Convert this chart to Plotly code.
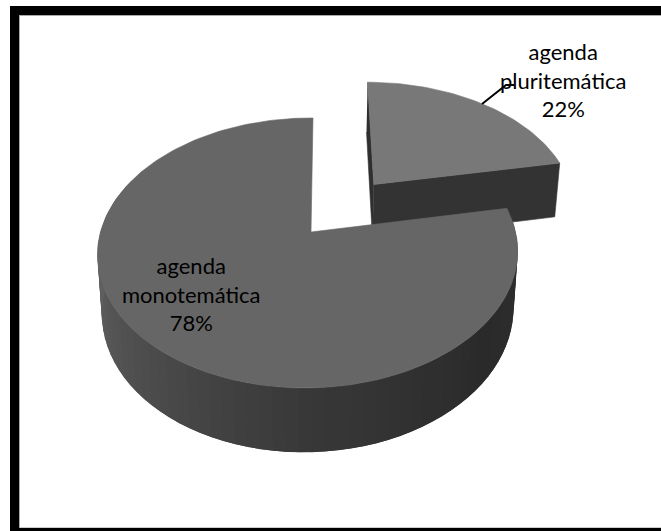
import numpy as np
import plotly.graph_objects as go

# Chart data
categories = ["agenda<br>pluritemática", "agenda<br>monotemática"]
shares = [22, 78]

# Perspective camera for the tilted disc (pixel-sized plot coordinates)
WIDTH, HEIGHT = 661, 531
X0, Y0 = 311, 232
AX, BY = 207.5, 131.7
KEEN = 0.1556
SKEW = 2.3
DEPTH = 57
BASE_SCALE = 0.98
EXPLODE = 0.496
LEAN = 0.0143

TOP_COLORS = ["#787878", "#666666"]
FRONT_FACE = "#333333"


def project(u, v, lower=False, lean=0.0):
    u, v = np.asarray(u, float), np.asarray(v, float)
    w = 1 - KEEN * v + lean * u
    if lower:
        return X0 + (BASE_SCALE * AX * u - SKEW * v) / w, Y0 + (BASE_SCALE * BY * v + DEPTH) / w
    return X0 + (AX * u - SKEW * v) / w, Y0 + BY * v / w


def rim(theta, du=0.0, dv=0.0):
    return du + np.sin(theta), dv - np.cos(theta)


def polygon(x, y, color, width=0.6):
    return go.Scatter(
        x=x, y=y, mode="lines", fill="toself", fillcolor=color,
        line=dict(color=color, width=width), hoverinfo="skip", showlegend=False,
    )


def wall_color(deg):
    # Side shading of the large slice, by clockwise angle from twelve o'clock
    stops = [79, 100, 130, 180, 215, 255, 285]
    greys = [62, 46, 42, 56, 72, 92, 100]
    g = np.interp(deg, stops, greys)
    return f"rgb({g:.0f},{g:.0f},{g:.0f})"


fractions = np.array(shares) / sum(shares)
split = 2 * np.pi * fractions[0]
mid = split / 2
du, dv = EXPLODE * np.sin(mid), -EXPLODE * np.cos(mid)

fig = go.Figure()

# Pulled-out slice: left sliver, front wall, then the top face
t0 = np.linspace(0, split, 60)
u0, v0 = rim(t0, du, dv)
ax_, ay_ = project(du, dv)
bx_, by_ = project(du, dv, lower=True)
cx0, cy0 = project(u0, v0)
lx0, ly0 = project(u0, v0, lower=True)
fig.add_trace(polygon([cx0[0], ax_, bx_, lx0[0]], [cy0[0], ay_, by_, ly0[0]], "#2f2f2f"))
fig.add_trace(polygon([ax_, cx0[-1], lx0[-1], bx_], [ay_, cy0[-1], ly0[-1], by_], FRONT_FACE))
fig.add_trace(polygon(np.r_[ax_, cx0, ax_], np.r_[ay_, cy0, ay_], TOP_COLORS[0]))

# Large slice: overlapping wall strips painted in order, then the top face
edges = np.linspace(split, 2 * np.pi, 91)
step = edges[1] - edges[0]
for a, b in zip(edges[:-1], edges[1:]):
    if np.cos(b) > 0.4:
        continue
    ua, va = rim(np.array([a, b + step]))
    xt, yt = project(ua, va, lean=LEAN)
    xb, yb = project(ua, va, lower=True, lean=LEAN)
    fig.add_trace(polygon([xt[0], xt[1], xb[1], xb[0]], [yt[0], yt[1], yb[1], yb[0]],
                          wall_color(np.degrees((a + b) / 2)), width=0))

t1 = np.linspace(split, 2 * np.pi, 200)
u1, v1 = rim(t1)
cx1, cy1 = project(u1, v1, lean=LEAN)
ox, oy = project(0.0, 0.0, lean=LEAN)
fig.add_trace(polygon(np.r_[ox, cx1, ox], np.r_[oy, cy1, oy], TOP_COLORS[1]))

# Leader line from the outer slice to its label
fig.add_trace(go.Scatter(
    x=[482, 506, 514], y=[104, 85, 85], mode="lines",
    line=dict(color="black", width=2), hoverinfo="skip", showlegend=False,
))

label_font = dict(family="Liberation Sans Narrow, Lato", size=22, color="black")
for text, share, x, y in [(categories[0], shares[0], 563, 80), (categories[1], shares[1], 191, 294)]:
    fig.add_annotation(
        x=x, y=y, text=f"{text}<br>{share}%", showarrow=False,
        font=label_font, align="center", xanchor="center", yanchor="middle",
    )

frame = [
    (10, 6, 661, 15, "black"),
    (10, 6, 19, 531, "black"),
    (10, 528, 661, 531, "black"),
    (19, 15, 661, 16, "#aaaaaa"),
    (19, 15, 20, 528, "#aaaaaa"),
    (20, 527, 661, 528, "#cccccc"),
]
fig.update_layout(
    width=WIDTH, height=HEIGHT, margin=dict(l=0, r=0, t=0, b=0),
    paper_bgcolor="white", plot_bgcolor="white",
    xaxis=dict(range=[0, WIDTH], visible=False, fixedrange=True),
    yaxis=dict(range=[HEIGHT, 0], visible=False, fixedrange=True),
    shapes=[dict(type="rect", xref="x", yref="y", x0=a, y0=b, x1=c, y1=d,
                 fillcolor=col, line_width=0, layer="below") for a, b, c, d, col in frame],
)

fig.write_html("out.html", config={"displayModeBar": False})
